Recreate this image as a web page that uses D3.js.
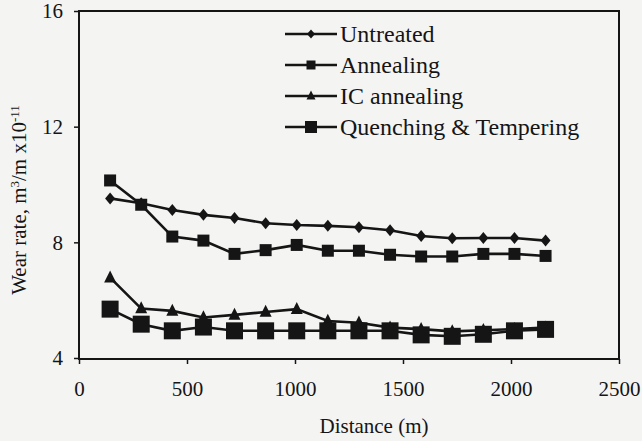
<!DOCTYPE html>
<html><head><meta charset="utf-8">
<script src="https://cdn.jsdelivr.net/npm/d3@7"></script>
<style>
html,body{margin:0;padding:0;background:#f4f4f3;}
svg{display:block;}
text{font-family:"Liberation Serif","Times New Roman",serif;fill:#151515;}
</style></head>
<body>
<svg id="chart" width="642" height="441"></svg>
<script>
const distances = [144,288,432,576,720,864,1008,1152,1296,1440,1584,1728,1872,2016,2160];
const seriesNames = ["Untreated","Annealing","IC annealing","Quenching & Tempering"];
const untreated = [9.52,9.35,9.12,8.95,8.84,8.66,8.60,8.57,8.52,8.42,8.22,8.14,8.15,8.15,8.06];
const annealing = [10.14,9.30,8.20,8.06,7.60,7.73,7.91,7.71,7.71,7.57,7.51,7.51,7.60,7.60,7.53];
const icAnnealing = [6.78,5.71,5.63,5.40,5.49,5.59,5.69,5.28,5.22,5.05,5.00,4.92,4.96,5.00,5.05];
const quenchTemper = [5.69,5.17,4.94,5.07,4.94,4.94,4.94,4.94,4.94,4.94,4.80,4.75,4.82,4.94,4.99];
const xTicks = [0,500,1000,1500,2000,2500];
const yTicks = [4,8,12,16];

const ink = "#151515";
const svg = d3.select("#chart");
const x = d3.scaleLinear().domain([0,2500]).range([79,619]);
const y = d3.scaleLinear().domain([4,16]).range([358,11]);

function diamond(w,h){return {draw(c){c.moveTo(0,-h/2);c.lineTo(w/2,0);c.lineTo(0,h/2);c.lineTo(-w/2,0);c.closePath();}};}
function square(s){return {draw(c){c.rect(-s/2,-s/2,s,s);}};}
function triangle(w,h){return {draw(c){c.moveTo(0,-h*0.6);c.lineTo(w/2,h*0.4);c.lineTo(-w/2,h*0.4);c.closePath();}};}

const series = [
  {name:seriesNames[0], values:untreated, shape:diamond(10,12), lshape:diamond(8,9)},
  {name:seriesNames[1], values:annealing, shape:square(12), lshape:square(9)},
  {name:seriesNames[2], values:icAnnealing, shape:triangle(12,12), lshape:triangle(9,9)},
  {name:seriesNames[3], values:quenchTemper, shape:square(17), lshape:square(12)}
];

const xAxis = d3.axisBottom(x).tickValues(xTicks).tickSize(5).tickPadding(17).tickFormat(d3.format("d"));
const yAxis = d3.axisLeft(y).tickValues(yTicks).tickSize(5).tickPadding(11).tickFormat(d3.format("d"));
const gx = svg.append("g").attr("transform","translate(0,359)").call(xAxis);
const gy = svg.append("g").attr("transform","translate(79,0)").call(yAxis);
[gx,gy].forEach(g=>{
  g.select(".domain").remove();
  g.selectAll("line").attr("stroke",ink).attr("stroke-width",1.5);
  g.selectAll("text").style("font-family",'"Liberation Serif",serif').style("font-size","21px").attr("fill",ink);
});

svg.append("rect").attr("x",x(0)).attr("y",y(16)).attr("width",x(2500)-x(0)).attr("height",359-y(16))
  .attr("fill","none").attr("stroke",ink).attr("stroke-width",2);

const line = d3.line().x((d,i)=>x(distances[i])).y(d=>y(d));
series.forEach(s=>{
  svg.append("path").datum(s.values).attr("d",line).attr("fill","none").attr("stroke",ink).attr("stroke-width",2.6);
  svg.append("g").selectAll("path").data(s.values).join("path")
    .attr("transform",(d,i)=>`translate(${x(distances[i])},${y(d)})`)
    .attr("d",d3.symbol().type(s.shape).size(1)).attr("fill",ink);
});

const lg = svg.append("g");
series.forEach((s,i)=>{
  const cy = 34 + i*31;
  lg.append("line").attr("x1",285).attr("x2",337).attr("y1",cy).attr("y2",cy).attr("stroke",ink).attr("stroke-width",2.4);
  lg.append("path").attr("transform",`translate(311,${cy})`).attr("d",d3.symbol().type(s.lshape).size(1)).attr("fill",ink);
  lg.append("text").attr("x",340).attr("y",cy+8).style("font-size","24px").text(s.name);
});

svg.append("text").attr("x",374).attr("y",433).attr("text-anchor","middle").style("font-size","21px").text("Distance (m)");
const yt = svg.append("text").attr("transform","translate(26,200) rotate(-90)").attr("text-anchor","middle").style("font-size","21px");
yt.append("tspan").text("Wear rate, m");
yt.append("tspan").attr("dy",-7).style("font-size","13px").text("3");
yt.append("tspan").attr("dy",7).text("/m x10");
yt.append("tspan").attr("dy",-7).style("font-size","13px").text("-11");
</script>
</body></html>
